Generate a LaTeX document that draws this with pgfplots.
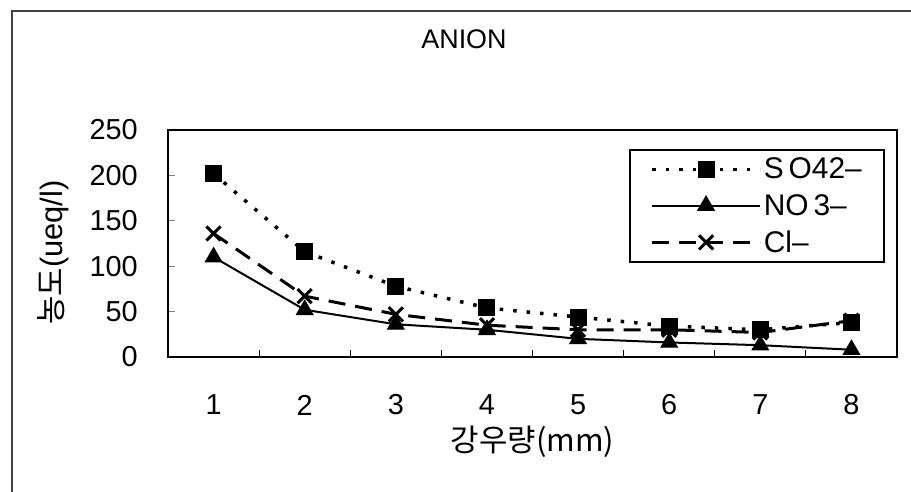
\documentclass[border=0pt]{standalone}
\usepackage{pgfplots}
\pgfplotsset{compat=1.18}
\usepackage{fontspec}
\setmainfont{Liberation Sans}
\newfontfamily\kr{Noto Sans CJK KR}
\begin{document}
\begin{tikzpicture}[x=1bp,y=1bp]
\path[use as bounding box] (0,0) rectangle (911,492);
\draw[line width=2bp,black!75] (12,0) -- (12,481) -- (911,481);
\begin{axis}[
  at={(168bp,135bp)}, anchor=south west,
  width=729bp, height=227bp, scale only axis,
  xmin=0.5, xmax=8.5, ymin=0, ymax=250,
  axis line style={line width=1.6bp},
  xtick={1,2,3,4,5,6,7,8},
  ytick={0,50,100,150,200,250},
  minor xtick={1.5,2.5,3.5,4.5,5.5,6.5,7.5},
  tick align=inside, tick pos=left,
  major tick length=7bp, minor tick length=7bp,
  xtick style={draw=none},
  minor x tick style={draw=black,line width=1.2bp},
  y tick style={line width=1.2bp},
  /pgf/number format/assume math mode=true,
  tick label style={font=\fontsize{29}{32}\selectfont},
  xticklabel style={anchor=center, yshift=-48bp},
  yticklabel={\pgfmathprintnumber{\tick}\rule{30bp}{0pt}},
  yticklabel style={anchor=east, inner sep=0pt},
  title={ANION},
  title style={font=\fontsize{27}{30}\selectfont, at={(rel axis cs:0.406,1.374)}, anchor=center},
  xlabel={\kr 강우량(mm)},
  xlabel style={font=\fontsize{31}{34}\selectfont, at={(rel axis cs:0.5,-0.375)}, anchor=center},
  ylabel={{\kr 농도}(ueq/l)},
  ylabel style={font=\fontsize{31}{36}\selectfont, at={(rel axis cs:-0.158,0.46)}, anchor=center, rotate=0},
  legend style={at={(rel axis cs:0.983,0.915)}, anchor=north east,
    draw=black, line width=1.6bp, font=\fontsize{30}{34}\selectfont,
    inner xsep=20bp, inner ysep=6bp, row sep=10bp,
    cells={anchor=west}},
  legend image code/.code={
    \draw[#1] (0bp,0bp) -- (108bp,0bp);
    \draw[#1,solid] plot coordinates {(54bp,0bp)};
  },
]
\addplot[black, line width=3.5bp, dash pattern=on 3.5bp off 10bp,
  mark=square*, mark size=8bp, mark options={solid, line width=1bp}]
  coordinates {(1,202) (2,116) (3,78) (4,54) (5,44) (6,34) (7,30) (8,38)};
\addlegendentry{S\,O42--}
\addplot[black, line width=2bp,
  mark=triangle*, mark size=9.5bp, mark options={solid, line width=1bp}]
  coordinates {(1,110) (2,52) (3,36) (4,30) (5,20) (6,16) (7,13) (8,8)};
\addlegendentry{NO\,3--}
\addplot[black, line width=3bp, dash pattern=on 17bp off 10bp,
  mark=x, mark size=10bp, mark options={solid, line width=3bp}]
  coordinates {(1,136) (2,67) (3,47) (4,35) (5,30) (6,30) (7,27) (8,40)};
\addlegendentry{Cl--}
\end{axis}
\end{tikzpicture}
\end{document}
